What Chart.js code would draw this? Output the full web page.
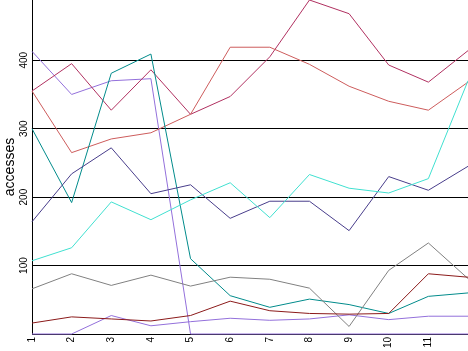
<!DOCTYPE html>
<html><head><meta charset="utf-8">
<script src="https://cdn.jsdelivr.net/npm/chart.js@4/dist/chart.umd.min.js"></script>
<style>html,body{margin:0;padding:0;background:#fff}#wrap{width:468px;height:351px}</style>
</head><body><div id="wrap"><canvas id="c" width="468" height="351"></canvas></div>
<script>
const categories = ['1','2','3','4','5','6','7','8','9','10','11','12'];
const seriesCrimson   = [355,395,327,386,321,347,405,488,468,393,368,414];
const seriesIndianRed = [355,265,285,294,321,419,419,394,362,340,327,368];
const seriesTeal      = [300,192,381,409,110,56,39,51,43,30,55,60];
const seriesPurpleA   = [413,350,370,373,0,0,0,0,0,0,0,0];
const seriesPurpleB   = [0,0,27,12,18,23,20,22,28,21,26,26];
const seriesSlate     = [164,234,272,205,218,169,194,194,151,230,210,245];
const seriesTurquoise = [107,126,193,167,196,221,170,233,213,206,227,370];
const seriesGray      = [66,88,71,86,70,83,80,67,11,93,133,81];
const seriesDarkRed   = [16,25,22,19,27,48,34,30,29,30,88,83];
const yTickValues = [100,200,300,400];
const yTitle = 'accesses';

const all = [seriesCrimson,seriesIndianRed,seriesTeal,seriesPurpleA,seriesPurpleB,seriesSlate,seriesTurquoise,seriesGray,seriesDarkRed];
const yMax = Math.max(...all.flat());

function ds(data,color){return {data,borderColor:color,backgroundColor:color,borderWidth:1,pointRadius:0,tension:0,fill:false,clip:4};}

new Chart(document.getElementById('c'),{
  type:'line',
  data:{labels:categories,datasets:[
    ds(seriesDarkRed,'#8b1a1a'),
    ds(seriesGray,'#808080'),
    ds(seriesTurquoise,'#40e0d0'),
    ds(seriesSlate,'#483d8b'),
    ds(seriesTeal,'#008b8b'),
    ds(seriesIndianRed,'#cd5c5c'),
    ds(seriesCrimson,'#b03060'),
    ds(seriesPurpleB,'#9370db'),
    ds(seriesPurpleA,'#9370db')
  ]},
  options:{
    responsive:false,animation:false,devicePixelRatio:1,
    layout:{padding:0},
    plugins:{legend:{display:false},tooltip:{enabled:false}},
    scales:{
      x:{
        offset:false,
        grid:{display:false,drawTicks:false},
        border:{display:true,color:'#000',width:1},
        ticks:{minRotation:90,maxRotation:90,autoSkip:false,padding:3,color:'#000',
          font:{family:'Liberation Sans',size:10},
          callback:function(v,i){return i===categories.length-1?null:categories[i];}},
        afterFit:function(s){s.height=17;s.paddingRight=0;}
      },
      y:{
        min:0,max:yMax,
        grid:{color:'#000',lineWidth:1,drawTicks:false},
        border:{display:true,color:'#000',width:1},
        afterBuildTicks:function(s){s.ticks=[{value:0}].concat(yTickValues.map(v=>({value:v})));},
        ticks:{minRotation:90,maxRotation:90,crossAlign:'center',padding:-1,color:'#000',
          font:{family:'Liberation Sans',size:10},
          callback:function(v){return v===0?'':String(v);}},
        title:{display:true,text:yTitle,color:'#000',font:{family:'Liberation Sans',size:14},padding:{top:2,bottom:0}},
        afterFit:function(s){s.width=32;s.paddingTop=0;s.paddingBottom=0;}
      }
    }
  }
});
</script>
</body></html>
